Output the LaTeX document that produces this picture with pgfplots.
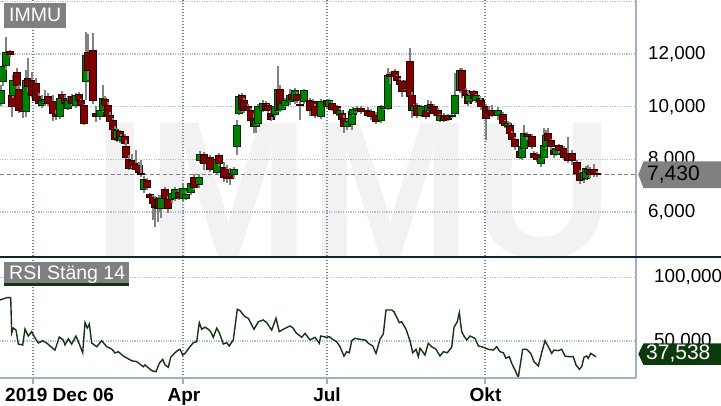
\documentclass[border=0pt]{standalone}
\usepackage{fontspec}
\setmainfont{Liberation Sans}
\usepackage{pgfplots}
\usepackage{pgfplotstable}
\pgfplotsset{compat=1.18}

\definecolor{cgreen}{RGB}{0,128,0}
\definecolor{cgreenD}{RGB}{0,46,0}
\definecolor{cred}{RGB}{128,0,0}
\definecolor{credD}{RGB}{46,0,0}
\definecolor{cwick}{RGB}{130,130,130}
\definecolor{hgrid}{RGB}{176,194,206}
\definecolor{vgrid}{RGB}{110,138,158}
\definecolor{frame}{RGB}{160,176,196}
\definecolor{sepline}{RGB}{14,38,52}
\definecolor{rsiline}{RGB}{20,52,20}
\definecolor{rsibox}{RGB}{12,58,12}
\definecolor{lbl}{RGB}{128,128,128}
\definecolor{wm}{RGB}{242,242,242}

% daily candles: x position, open, close, high, low
\pgfplotstableread{
x o c h l
1 10.14 10.63 10.82 10.03
3 10.94 11.51 11.77 10.79
6 11.58 12.04 12.65 11.39
10 12.08 12.00 12.15 11.89
12 10.44 9.99 10.63 9.61
13 10.44 11.01 11.20 10.33
17 11.28 10.82 11.47 10.63
19 10.67 9.84 10.82 9.76
23 10.44 9.80 10.56 9.57
26 9.80 11.01 11.39 9.61
28 11.09 10.75 11.85 10.56
32 11.01 10.44 11.32 10.33
36 10.90 10.25 11.09 10.10
39 10.37 10.14 10.52 10.03
42 10.06 10.25 10.44 9.95
45 10.14 10.29 10.63 10.03
48 10.37 10.14 10.52 10.03
53 10.18 9.76 10.44 9.46
56 9.72 9.61 9.87 9.49
60 9.61 10.33 10.48 9.53
62 10.48 10.33 10.60 10.25
65 10.33 10.14 10.44 10.03
68 9.95 10.25 10.41 9.87
72 10.37 10.14 10.48 10.03
76 10.03 10.41 10.52 9.95
79 10.48 10.22 10.56 10.10
81 10.22 10.06 10.29 9.95
84 10.03 9.38 10.10 9.30
86 10.94 11.96 12.84 10.25
88 12.04 11.39 12.76 11.01
93 12.15 10.22 12.80 10.10
96 9.76 9.61 10.03 9.42
100 9.61 9.87 9.95 9.49
103 9.87 10.33 10.82 9.80
105 10.29 10.03 10.41 9.87
108 10.06 9.61 10.18 9.53
110 9.68 9.42 9.80 9.34
113 9.49 9.15 9.57 9.08
115 9.15 8.77 9.27 8.70
117 8.81 9.11 9.19 8.66
120 9.04 8.73 9.11 8.62
121 8.70 8.85 8.96 8.62
125 8.85 8.62 8.96 8.54
126 8.47 8.09 8.73 7.90
129 8.01 7.67 8.16 7.60
132 7.97 7.75 8.20 7.67
136 7.86 7.63 8.35 7.56
139 7.75 7.52 7.90 7.44
141 7.48 7.41 7.98 7.33
144 6.84 7.25 7.37 6.72
147 7.18 6.95 7.29 6.84
150 6.65 6.57 6.72 6.49
153 6.57 6.34 6.65 5.70
155 6.49 6.19 6.61 5.43
158 6.15 6.46 6.57 5.62
159 6.53 6.15 6.65 6.00
161 6.15 6.53 6.65 5.77
165 6.84 6.53 6.95 6.46
168 6.46 6.15 6.61 5.96
172 6.46 6.72 6.84 6.34
175 6.53 6.84 6.95 6.42
179 6.76 6.57 6.91 6.46
183 6.53 6.91 7.06 6.42
186 6.53 6.68 6.80 6.46
191 6.76 7.10 7.29 6.65
194 7.33 6.95 7.44 6.84
199 7.03 7.33 7.44 6.91
200 7.94 8.20 8.32 7.86
204 8.20 7.86 8.28 7.60
210 8.09 7.60 8.17 7.52
217 7.52 7.98 8.09 7.44
219 8.13 7.86 8.24 7.75
224 7.71 7.33 7.90 7.14
227 7.60 7.29 7.78 7.10
230 7.48 7.29 7.67 7.03
234 7.41 7.60 7.71 7.29
237 8.47 9.30 9.49 8.17
239 9.76 10.37 10.48 9.68
242 10.41 9.91 10.52 9.80
244 10.25 9.84 10.33 9.76
248 9.99 9.84 10.10 9.72
251 9.84 9.49 9.95 9.30
254 9.57 9.23 9.76 9.00
256 9.23 9.49 9.65 9.00
258 9.38 9.99 10.10 9.30
263 9.87 10.14 10.25 9.80
266 10.14 9.91 10.22 9.84
268 10.03 9.84 10.10 9.76
271 9.76 9.53 9.87 9.46
272 9.68 9.61 9.80 9.49
275 9.72 9.99 10.10 9.61
278 9.87 10.67 11.54 9.80
280 10.67 9.91 10.82 9.80
282 9.91 10.14 10.25 9.84
285 10.06 10.25 10.33 9.99
290 10.18 10.44 10.67 10.06
292 10.48 10.29 10.56 10.22
295 10.22 10.60 10.71 10.10
297 10.48 10.25 10.56 10.14
300 10.10 10.03 10.25 9.49
304 10.18 10.60 10.67 10.10
310 10.25 9.84 10.33 9.65
313 10.18 9.99 10.29 9.91
315 9.99 9.68 10.10 9.57
321 9.61 10.18 10.29 9.53
327 10.22 9.99 10.29 9.91
329 9.99 10.22 10.29 9.91
332 10.14 9.91 10.22 9.84
337 9.99 9.76 10.06 9.65
340 9.72 9.87 9.95 9.61
342 9.76 9.53 9.87 9.46
344 9.57 9.23 9.68 9.00
347 9.23 9.42 9.53 9.11
352 9.34 9.80 9.91 9.11
353 9.72 9.91 9.99 9.65
357 9.84 9.95 10.03 9.76
361 9.95 9.80 10.03 9.72
368 9.87 9.68 9.99 9.61
371 9.80 9.61 9.91 9.49
376 9.68 9.42 9.80 9.34
381 9.46 9.99 10.06 9.38
384 9.95 9.99 10.03 9.87
388 9.95 11.20 11.47 9.87
390 11.24 11.13 11.32 10.86
395 11.35 11.13 11.43 11.01
397 11.13 10.98 11.20 10.86
400 11.01 10.86 11.09 10.79
402 10.90 10.56 11.01 10.37
405 10.94 10.71 11.01 10.63
410 11.73 10.37 12.23 10.25
412 10.44 9.87 10.56 9.57
414 9.87 9.99 10.10 9.76
417 10.03 9.68 10.14 9.57
421 9.68 9.99 10.06 9.61
426 9.87 9.61 9.99 9.53
428 9.87 10.06 10.25 9.80
431 10.10 9.95 10.22 9.80
434 9.99 9.76 10.10 9.65
438 9.87 9.65 9.95 9.53
440 9.49 9.65 9.72 9.42
444 9.68 9.49 9.76 9.42
448 9.65 9.53 9.72 9.46
452 9.61 9.68 9.76 9.57
455 9.76 10.44 11.28 9.68
460 10.60 11.39 11.47 10.52
462 11.39 10.60 11.47 10.33
466 10.63 10.44 10.71 10.25
468 10.48 10.14 10.63 10.03
469 10.18 10.41 10.52 10.10
474 10.56 10.33 10.63 10.22
476 10.22 10.41 10.48 10.14
480 10.33 10.18 10.41 10.10
481 10.25 9.99 10.33 9.87
486 9.99 9.57 10.10 8.73
489 9.87 9.76 10.03 9.68
492 9.84 9.68 10.06 9.61
498 9.68 9.87 9.99 9.49
503 9.72 9.38 9.80 9.30
505 9.42 9.27 9.49 9.19
508 9.23 9.38 9.46 9.15
510 9.30 9.00 9.42 8.92
512 9.00 8.77 9.08 8.70
515 8.77 8.47 8.85 8.35
520 8.28 8.09 8.43 8.01
522 8.09 8.47 8.54 7.98
524 8.43 9.00 9.30 8.35
527 8.96 8.85 9.04 8.73
532 8.85 8.47 8.96 8.39
534 8.24 8.09 8.32 8.01
537 8.20 7.98 8.28 7.90
541 7.86 8.09 8.20 7.71
544 8.09 8.54 9.19 8.01
546 8.47 8.92 9.11 8.39
548 9.00 8.73 9.19 8.62
551 8.70 8.47 8.77 8.35
554 8.35 8.20 8.43 8.05
556 8.20 8.43 8.51 8.13
559 8.51 8.32 8.58 8.24
564 8.43 8.09 8.51 7.98
568 8.24 7.94 8.85 7.86
572 8.24 7.94 8.35 7.79
577 7.90 7.48 7.98 7.41
580 7.48 7.18 7.60 7.06
584 7.22 7.52 7.60 7.10
586 7.29 7.67 7.75 7.22
588 7.52 7.63 7.79 7.41
590 7.60 7.41 7.71 7.29
594 7.63 7.48 7.82 7.33
597 7.48 7.43 7.56 7.33
}\candles

% RSI (14) on close
\pgfplotstableread{
x r
0 82.2
6.7 84.0
10.7 84.0
11.7 56.3
13.3 60.2
16 58.6
18.3 47.6
22.7 46.9
25 59.4
28.3 53.9
31.7 57.3
35 52.4
38.3 48.4
42.7 50.2
46.7 48.4
50 46.1
55 42.9
59.3 53.1
63.3 50.8
65 46.9
68.3 51.6
71.7 47.6
76 53.9
79.3 47.6
82.7 40.8
85 64.4
87.3 60.2
89.3 63.3
91.7 48.4
96.7 45.5
101.7 50.2
106.7 45.5
111.7 43.7
115 40.6
118.3 41.6
123.3 38.2
126.7 36.7
131.7 34.5
136.7 33.8
143.3 29.8
145 31.2
151.7 26.7
156 25.9
159.3 32.5
162.7 35.6
165 31.2
168.3 29.4
170.7 37.2
175 40.8
178.3 42.9
180 43.5
182.7 39.0
185 40.3
190 45.5
193.3 48.7
196.7 49.4
199.3 64.4
201.7 59.2
205 60.8
208.3 59.2
210.7 57.3
213.3 52.9
216.7 60.0
219.3 56.5
223.3 47.6
226.7 48.7
229.3 46.1
233.3 50.8
237.3 74.9
240 73.8
245 69.1
248.3 67.8
254 59.2
258.3 65.1
263.3 66.5
266.7 64.4
271.7 58.6
276 67.8
279.3 57.3
283.3 59.2
290 61.8
293.3 60.0
296 56.5
301.7 52.9
305 56.0
310 50.8
315 52.9
319.3 48.2
320.7 53.9
326.7 52.9
329.3 53.4
332.7 51.3
336.7 49.4
340 45.5
344 38.2
346.7 41.6
349.3 40.8
351.7 50.2
355 52.1
360 51.3
365 50.8
368.3 48.2
372.7 46.1
376 40.3
380 51.3
383.3 55.5
386 74.3
391.7 74.3
394 73.0
399.3 64.4
401.7 65.1
406 59.2
410 50.2
412.7 40.8
416 43.5
418.3 37.7
420 44.3
422.7 41.6
425 39.0
428.3 48.2
431.7 45.5
436 43.5
440 38.2
443.3 41.6
447.3 40.8
451.7 45.1
454 60.8
457.3 65.1
459.3 72.2
461.7 57.3
464 53.9
466.7 50.8
470 53.9
475 52.1
478.3 46.1
483.3 45.1
488.3 43.5
493.3 42.9
496.7 45.5
500 41.6
503.3 40.8
506 36.4
509.3 37.7
511.7 32.5
515 27.2
518.3 21.5
522.7 43.5
526.7 43.5
530.7 40.3
534 33.8
538.3 30.4
541.7 40.8
545 50.2
548.3 45.5
551.7 40.3
554 42.9
558.3 42.4
561.7 43.5
565 38.2
568.3 37.7
573.3 37.7
576 31.2
579.3 27.8
581.7 29.8
584 37.2
586.7 38.2
588.3 36.4
590.7 40.3
593.3 39.0
596 37.538
}\rsidata

% candle mark: placed at (x, open); 26.3333pt per price unit
\pgfdeclareplotmark{candle}{%
  \pgfmathsetmacro\cdc{(\vc-\vo)*26.3333}%
  \pgfmathsetmacro\cdh{(\vh-\vo)*26.3333}%
  \pgfmathsetmacro\cdl{(\vl-\vo)*26.3333}%
  \pgfsetdash{}{0pt}%
  \pgfsetlinewidth{1.3pt}%
  \pgfsetstrokecolor{cwick}%
  \pgfpathmoveto{\pgfqpoint{0pt}{\cdl pt}}%
  \pgfpathlineto{\pgfqpoint{0pt}{\cdh pt}}%
  \pgfusepathqstroke
  \ifdim\cdc pt<0pt
    \pgfsetfillcolor{cred}\pgfsetstrokecolor{credD}%
  \else
    \pgfsetfillcolor{cgreen}\pgfsetstrokecolor{cgreenD}%
  \fi
  \pgfsetlinewidth{0.9pt}%
  \pgfpathrectanglecorners{\pgfqpoint{-3.5pt}{0pt}}{\pgfqpoint{3.5pt}{\cdc pt}}%
  \pgfusepathqfillstroke
}

\pgfplotsset{
  panel/.style={
    scale only axis, width=636pt, xmin=0, xmax=636,
    enlargelimits=false,
    axis line style={draw=none},
    ytick style={draw=none},
    xtick={33,183,327,485}, xticklabels={},
    xmajorgrids, ymajorgrids,
    x grid style={vgrid, line width=1.4pt, dash pattern=on 1.4pt off 1.6pt},
    y grid style={hgrid, line width=1.2pt, dash pattern=on 1.2pt off 1.2pt},
    yticklabel pos=right,
    yticklabel style={anchor=west, inner sep=0pt, xshift=12pt,
      font=\fontsize{18.8}{20}\selectfont,
      /pgf/number format/.cd, fixed, fixed zerofill, precision=3, use comma,
      assume math mode=true},
  },
}

\begin{document}
\begin{tikzpicture}
\fill[white] (0pt,0pt) rectangle (721pt,406pt);
\node[anchor=base west, inner sep=0pt, text=wm,
  font=\fontsize{195}{195}\selectfont\bfseries] at (93pt,148pt) {IMMU};

\begin{axis}[panel, at={(0pt,150pt)}, anchor=south west, height=256pt,
  ymin=4.329, ymax=14.0506, ytick={6,8,10,12},
  extra y ticks={14}, extra y tick labels={}, extra y tick style={grid=major},
  xtick style={draw=none}]
\addplot[lbl, line width=1.1pt, dash pattern=on 4pt off 2.5pt] coordinates {(0,7.43) (636,7.43)};
\addplot[scatter, only marks, mark=candle,
  visualization depends on={\thisrow{o} \as \vo},
  visualization depends on={\thisrow{c} \as \vc},
  visualization depends on={\thisrow{h} \as \vh},
  visualization depends on={\thisrow{l} \as \vl}]
  table[x=x, y=o] {\candles};
\end{axis}

\begin{axis}[panel, at={(0pt,28pt)}, anchor=south west, height=121pt,
  ymin=20.96, ymax=115.93, ytick={50,100},
  xtick pos=bottom, tick align=outside, major tick length=6pt,
  xtick style={draw=frame, line width=1.5pt}]
\addplot[rsiline, line width=1.4pt] table[x=x, y=r] {\rsidata};
\end{axis}

\draw[frame, line width=2pt] (0pt,28.3pt) -- (636pt,28.3pt);
\draw[frame, line width=1.7pt] (635.8pt,28pt) -- (635.8pt,406pt);
\draw[sepline, line width=2pt] (0pt,149pt) -- (721pt,149pt);

% panel titles
\fill[lbl] (4pt,377.7pt) rectangle (66pt,403.3pt);
\node[anchor=base west, inner sep=0pt, text=white, font=\fontsize{19.5}{20}\selectfont] at (9pt,384.3pt) {IMMU};
\fill[lbl] (4pt,122.7pt) rectangle (129pt,144.3pt);
\fill[rsibox] (4pt,120.3pt) rectangle (129pt,122.7pt);
\node[anchor=base west, inner sep=0pt, text=white, font=\fontsize{19.5}{20}\selectfont] at (9pt,126.7pt) {RSI Stäng 14};

% last value markers
\fill[lbl] (638.3pt,231.3pt) -- (643.5pt,244.5pt) -- (721pt,244.5pt) -- (721pt,217.8pt) -- (643.5pt,217.8pt) -- cycle;
\node[anchor=west, inner sep=0pt, text=black, font=\fontsize{21}{22}\selectfont] at (647pt,231.3pt) {7,430};
\fill[rsibox] (638.3pt,52pt) -- (643.5pt,62.7pt) -- (721pt,62.7pt) -- (721pt,41pt) -- (643.5pt,41pt) -- cycle;
\node[anchor=west, inner sep=0pt, text=white, font=\fontsize{21}{22}\selectfont] at (646pt,52pt) {37,538};

% date labels
\begin{scope}[font=\fontsize{19}{20}\selectfont\bfseries]
\node[anchor=base west, inner sep=0pt] at (5pt,4pt) {2019 Dec 06};
\node[anchor=base, inner sep=0pt] at (184pt,4pt) {Apr};
\node[anchor=base, inner sep=0pt] at (327pt,4pt) {Jul};
\node[anchor=base, inner sep=0pt] at (485.5pt,4pt) {Okt};
\end{scope}
\pgfresetboundingbox
\useasboundingbox (0pt,0pt) rectangle (721pt,406pt);
\end{tikzpicture}
\end{document}
